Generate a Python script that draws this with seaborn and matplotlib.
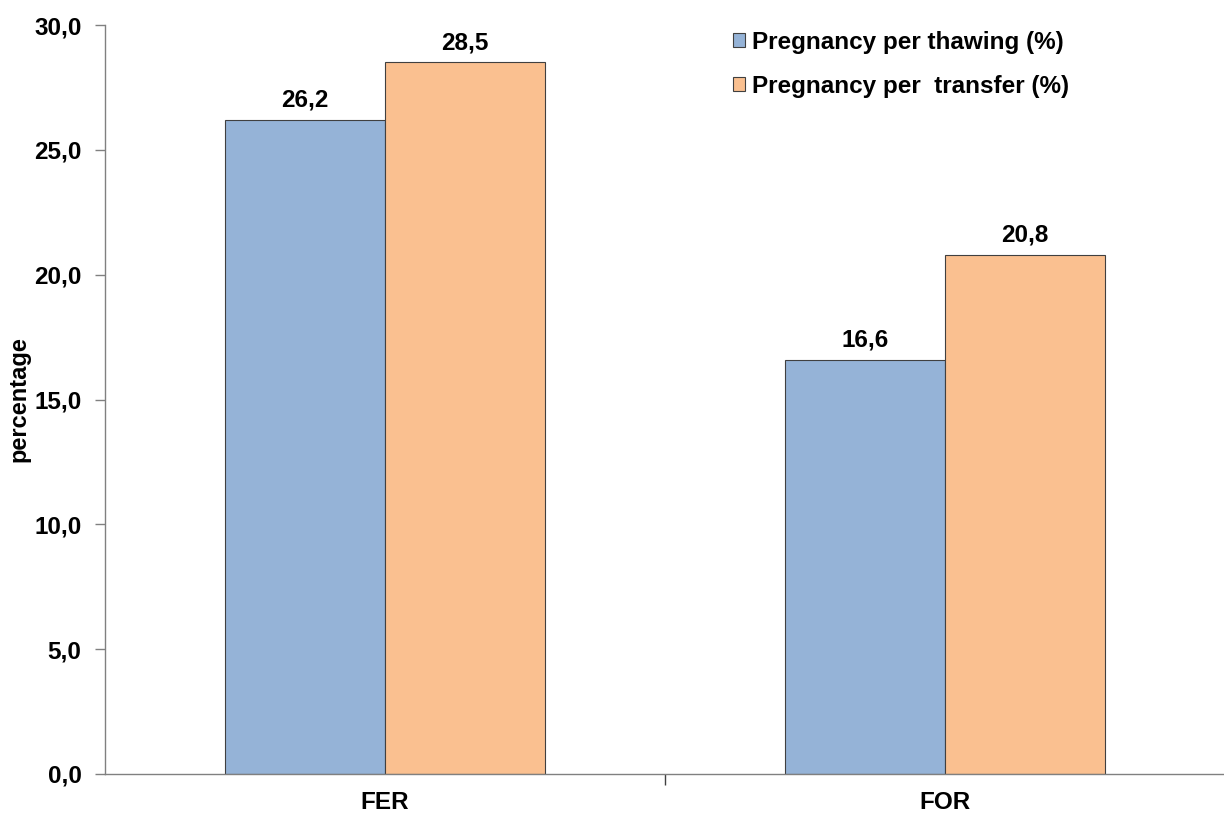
import matplotlib
matplotlib.use("Agg")
import matplotlib.pyplot as plt
import matplotlib.ticker as mticker
import seaborn as sns
import pandas as pd

categories = ["FER", "FOR"]
series_names = ["Pregnancy per thawing (%)", "Pregnancy per  transfer (%)"]
thawing = [26.2, 16.6]
transfer = [28.5, 20.8]
y_ticks = [0, 5, 10, 15, 20, 25, 30]

df = pd.DataFrame({
    "cat": categories * 2,
    "series": [series_names[0]] * 2 + [series_names[1]] * 2,
    "value": thawing + transfer,
})

sns.set_theme(style="white")
plt.rcParams["font.family"] = ["Liberation Sans", "DejaVu Sans"]
plt.rcParams["font.weight"] = "bold"
plt.rcParams["text.color"] = "black"

fig = plt.figure(figsize=(12.24, 8.14), dpi=100)
ax = fig.add_axes([105 / 1224, 40 / 814, 1120 / 1224, 749 / 814])

palette = {series_names[0]: "#95B3D7", series_names[1]: "#FAC090"}
sns.barplot(data=df, x="cat", y="value", hue="series", palette=palette,
            width=0.573, edgecolor="#404040", linewidth=0.8, saturation=1,
            ax=ax)

ax.set_xlim(-0.5, 1.5)
ax.set_ylim(0, 30)
ax.set_yticks(y_ticks)
ax.yaxis.set_major_formatter(mticker.FuncFormatter(lambda v, p: f"{v:.1f}".replace(".", ",")))

for cont in ax.containers:
    ax.bar_label(cont, labels=[f"{b.get_height():.1f}".replace(".", ",") for b in cont],
                 padding=6, fontsize=17.5, fontweight="bold", color="black")

for s in ["top", "right"]:
    ax.spines[s].set_visible(False)
for s in ["left", "bottom"]:
    ax.spines[s].set_color("#808080")
    ax.spines[s].set_linewidth(1.0)

ax.tick_params(axis="y", which="major", left=True, length=7, width=1, color="#808080",
               labelsize=17.5, pad=10)
ax.tick_params(axis="x", which="major", bottom=False, length=0, labelsize=17.5, pad=12)
ax.set_xticks([0.5], minor=True)
ax.tick_params(axis="x", which="minor", bottom=True, length=8, width=1, color="#404040")
for lab in ax.get_xticklabels() + ax.get_yticklabels():
    lab.set_fontweight("bold")
    lab.set_color("black")

ax.set_xlabel("")
ax.set_ylabel("percentage", fontsize=17, fontweight="bold", color="black")
ax.yaxis.label.set_va("center")
ax.yaxis.set_label_coords((19 - 105) / 1120, 0.5)

leg = ax.legend(loc="upper left", bbox_to_anchor=(711 / 1224, 1 - 9 / 814),
                bbox_transform=fig.transFigure, frameon=False,
                prop={"weight": "bold", "size": 17.5}, handlelength=0.5,
                handleheight=0.5, handletextpad=0.3, labelspacing=0.85)
for h in leg.legend_handles:
    h.set_edgecolor("#404040")
    h.set_linewidth(0.8)
for t in leg.get_texts():
    t.set_color("black")

fig.savefig("out.png", dpi=100)
